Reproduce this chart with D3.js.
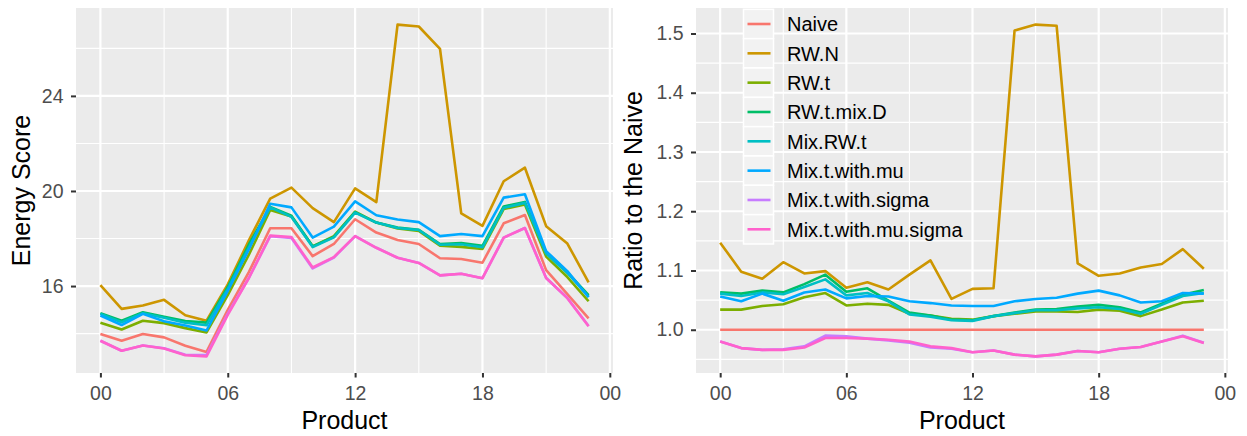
<!DOCTYPE html>
<html><head><meta charset="utf-8">
<script src="https://cdn.jsdelivr.net/npm/d3@7/dist/d3.min.js"></script>
<style>
body{margin:0;background:#fff;}
svg text{font-family:"Liberation Sans",Arial,Helvetica,sans-serif;}
</style>
</head><body>
<svg id="chart" width="1247" height="436"></svg>
<script>
// ---------- data ----------
const hours = [0,1,2,3,4,5,6,7,8,9,10,11,12,13,14,15,16,17,18,19,20,21,22,23];
const xTickValues = [0, 6, 12, 18, 24];
const xTickLabels = ["00", "06", "12", "18", "00"];
const seriesNames = ["Naive","RW.N","RW.t","RW.t.mix.D","Mix.RW.t","Mix.t.with.mu","Mix.t.with.sigma","Mix.t.with.mu.sigma"];
const seriesColors = ["#F8766D","#CD9600","#7CAE00","#00BE67","#00BFC4","#00A9FF","#C77CFF","#FF61CC"];

// Left panel: Energy Score
const esNaive      = [13.98,13.70,13.98,13.84,13.49,13.23,15.00,16.60,18.43,18.43,17.26,17.77,18.81,18.25,17.94,17.77,17.17,17.14,16.98,18.64,18.99,16.67,15.66,14.64];
const esRWN        = [16.04,15.04,15.18,15.42,14.77,14.54,16.07,17.93,19.68,20.14,19.28,18.69,20.11,19.53,27.00,26.92,25.98,19.06,18.53,20.41,20.98,18.52,17.79,16.15];
const esRWt        = [14.46,14.17,14.54,14.44,14.23,14.05,15.62,17.33,19.20,18.93,17.67,18.10,19.13,18.67,18.42,18.32,17.70,17.65,17.56,19.24,19.43,17.24,16.38,15.36];
const esRWtMixD    = [14.86,14.54,14.90,14.71,14.53,14.46,15.96,17.76,19.33,18.96,17.67,18.07,19.11,18.67,18.46,18.37,17.77,17.81,17.69,19.35,19.54,17.40,16.58,15.62];
const esMixRWt     = [14.83,14.48,14.86,14.67,14.46,14.35,15.87,17.63,19.31,18.91,17.64,18.05,19.09,18.67,18.44,18.36,17.74,17.76,17.63,19.29,19.50,17.37,16.55,15.55];
const esMixMu      = [14.76,14.36,14.83,14.52,14.34,14.13,15.80,17.55,19.46,19.31,18.04,18.50,19.56,18.98,18.80,18.69,18.10,18.19,18.10,19.72,19.86,17.47,16.63,15.53];
const esMixSigma   = [13.70,13.28,13.50,13.38,13.11,13.10,14.84,16.35,18.10,18.02,16.74,17.20,18.10,17.61,17.19,16.97,16.45,16.52,16.33,18.04,18.44,16.34,15.50,14.32];
const esMixMuSigma = [13.70,13.28,13.50,13.37,13.09,13.04,14.79,16.35,18.12,18.06,16.78,17.22,18.10,17.61,17.19,16.97,16.45,16.52,16.33,18.04,18.44,16.34,15.49,14.31];

// Right panel: Ratio to the Naive
const rtNaive      = [1,1,1,1,1,1,1,1,1,1,1,1,1,1,1,1,1,1,1,1,1,1,1,1];
const rtRWN        = [1.147,1.098,1.086,1.114,1.095,1.099,1.071,1.080,1.068,1.093,1.117,1.052,1.069,1.070,1.505,1.515,1.513,1.112,1.091,1.095,1.105,1.111,1.136,1.103];
const rtRWt        = [1.034,1.034,1.040,1.043,1.055,1.062,1.041,1.044,1.042,1.027,1.024,1.0185,1.017,1.023,1.027,1.031,1.031,1.030,1.034,1.032,1.023,1.034,1.046,1.049];
const rtRWtMixD    = [1.063,1.061,1.066,1.063,1.077,1.093,1.064,1.070,1.049,1.029,1.024,1.017,1.016,1.023,1.029,1.034,1.035,1.039,1.042,1.038,1.029,1.044,1.059,1.067];
const rtMixRWt     = [1.061,1.057,1.063,1.060,1.072,1.085,1.058,1.062,1.048,1.026,1.022,1.016,1.015,1.023,1.028,1.033,1.033,1.036,1.038,1.035,1.027,1.042,1.057,1.062];
const rtMixMu      = [1.056,1.048,1.061,1.049,1.063,1.068,1.053,1.057,1.056,1.048,1.045,1.041,1.040,1.040,1.048,1.052,1.054,1.061,1.066,1.058,1.046,1.048,1.062,1.061];
const rtMixSigma   = [0.980,0.969,0.966,0.967,0.972,0.990,0.989,0.985,0.982,0.978,0.970,0.968,0.962,0.965,0.958,0.955,0.958,0.964,0.962,0.968,0.971,0.980,0.990,0.978];
const rtMixMuSigma = [0.980,0.969,0.966,0.966,0.970,0.986,0.986,0.985,0.983,0.980,0.972,0.969,0.962,0.965,0.958,0.955,0.958,0.964,0.962,0.968,0.971,0.980,0.989,0.9775];

const esTicks = [16, 20, 24];
const esMinor = [14, 18, 22, 26];
const rtTicks = [1.0, 1.1, 1.2, 1.3, 1.4, 1.5];
const rtMinor = [0.95, 1.05, 1.15, 1.25, 1.35, 1.45];
const xMinor = [3, 9, 15, 21];

const esSeries = [esNaive, esRWN, esRWt, esRWtMixD, esMixRWt, esMixMu, esMixSigma, esMixMuSigma];
const rtSeries = [rtNaive, rtRWN, rtRWt, rtRWtMixD, rtMixRWt, rtMixMu, rtMixSigma, rtMixMuSigma];

// ---------- drawing ----------
const svg = d3.select("#chart");

function expand(ext, m) { const r = ext[1] - ext[0]; return [ext[0] - m * r, ext[1] + m * r]; }

function panel(opts) {
  const {left, right, top, bottom, series, yTicks, yMinor, yFmt, yTitle, yTitleX} = opts;
  const x = d3.scaleLinear().domain(expand([0, 23], 0.05)).range([left, right]);
  const all = series.flat();
  const y = d3.scaleLinear().domain(expand(d3.extent(all), 0.05)).range([bottom, top]);
  const g = svg.append("g");
  g.append("rect").attr("x", left).attr("y", top).attr("width", right - left).attr("height", bottom - top).attr("fill", "#EBEBEB");
  // minor grid
  g.selectAll(".ymin").data(yMinor).join("line")
    .attr("x1", left).attr("x2", right).attr("y1", d => y(d)).attr("y2", d => y(d))
    .attr("stroke", "#fff").attr("stroke-width", 1.1);
  g.selectAll(".xmin").data(xMinor).join("line")
    .attr("y1", top).attr("y2", bottom).attr("x1", d => x(d)).attr("x2", d => x(d))
    .attr("stroke", "#fff").attr("stroke-width", 1.1);
  // major grid
  g.selectAll(".ymaj").data(yTicks).join("line")
    .attr("x1", left).attr("x2", right).attr("y1", d => y(d)).attr("y2", d => y(d))
    .attr("stroke", "#fff").attr("stroke-width", 2.2);
  g.selectAll(".xmaj").data(xTickValues).join("line")
    .attr("y1", top).attr("y2", bottom).attr("x1", d => x(d)).attr("x2", d => x(d))
    .attr("stroke", "#fff").attr("stroke-width", 2.2);

  // lines
  const line = d3.line().x((d, i) => x(hours[i])).y(d => y(d));
  series.forEach((s, i) => {
    g.append("path").datum(s).attr("d", line).attr("fill", "none")
      .attr("stroke", seriesColors[i]).attr("stroke-width", 2.6).attr("stroke-linejoin", "round");
  });

  // axes
  const xa = g.append("g").attr("transform", `translate(0,${bottom})`)
    .call(d3.axisBottom(x).tickValues(xTickValues).tickFormat((d, i) => xTickLabels[i]).tickSize(4.5).tickPadding(9));
  const ya = g.append("g").attr("transform", `translate(${left},0)`)
    .call(d3.axisLeft(y).tickValues(yTicks).tickFormat(yFmt).tickSize(5).tickPadding(7.5));
  [xa, ya].forEach(a => {
    a.select(".domain").remove();
    a.selectAll(".tick line").attr("stroke", "#333333").attr("stroke-width", 2);
    a.selectAll(".tick text").attr("fill", "#4D4D4D").style("font-size", "19.5px")
      .style("font-family", '"Liberation Sans",Arial,sans-serif');
  });

  // titles
  g.append("text").attr("x", (left + right) / 2).attr("y", 429).attr("text-anchor", "middle")
    .style("font-size", "25px").attr("fill", "#000").text("Product");
  g.append("text").attr("transform", `translate(${yTitleX},${(top + bottom) / 2}) rotate(-90)`)
    .attr("text-anchor", "middle").attr("dy", "0.35em")
    .style("font-size", "25px").attr("fill", "#000").text(yTitle);
  return {x, y, g};
}

panel({left: 76, right: 613, top: 8, bottom: 373, series: esSeries,
  yTicks: esTicks, yMinor: esMinor, yFmt: d3.format("d"), yTitle: "Energy Score", yTitleX: 21});
panel({left: 696, right: 1228, top: 8, bottom: 373, series: rtSeries,
  yTicks: rtTicks, yMinor: rtMinor, yFmt: d3.format(".1f"), yTitle: "Ratio to the Naive", yTitleX: 633});

// legend
const legY0 = 24, legStep = 29.33, keyX = 743.5, keyW = 30;
const leg = svg.append("g");
seriesNames.forEach((n, i) => {
  const cy = legY0 + i * legStep;
  leg.append("rect").attr("x", keyX).attr("y", cy - legStep / 2).attr("width", keyW).attr("height", legStep)
    .attr("fill", "#F2F2F2").attr("stroke", "#fff").attr("stroke-width", 1.5);
  leg.append("line").attr("x1", keyX + 4).attr("x2", keyX + keyW - 3).attr("y1", cy).attr("y2", cy)
    .attr("stroke", seriesColors[i]).attr("stroke-width", 2.6);
  leg.append("text").attr("x", 787).attr("y", cy).attr("dy", "0.36em")
    .style("font-size", "20px").attr("fill", "#000").text(n);
});
</script>
</body></html>
